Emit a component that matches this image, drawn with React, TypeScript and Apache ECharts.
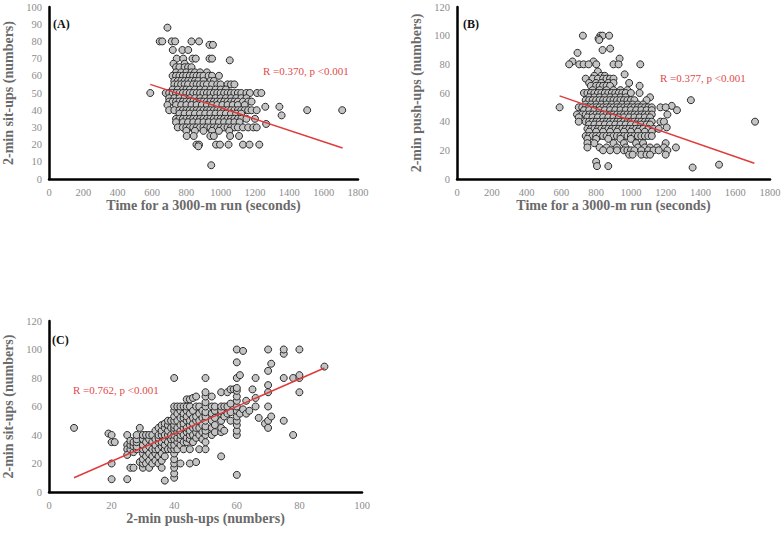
import React, { useEffect, useRef } from "react";
import * as echarts from "echarts";

// ---------- Panel A: 3000-m run time (s) vs 2-min sit-ups ----------
// rows: [sit-ups value, run times observed at that value]
const runSitupRows: [number, number[]][] = [
  [88, [690]],
  [80, [645, 660, 715, 735, 830, 874]],
  [78, [935, 955]],
  [75, [721, 777, 811]],
  [70, [744, 782, 836, 855, 935, 950]],
  [69, [1053]],
  [67, [725, 790]],
  [65, [740, 760, 790, 810, 830]],
  [62, [740, 770, 800, 830, 850, 880, 920]],
  [60, [720, 740, 760, 780, 800, 820, 840, 860, 880, 900, 930, 950, 990]],
  [57, [730, 750, 770, 790, 810, 830, 850, 870, 900, 940, 960]],
  [55, [730, 750, 770, 790, 810, 840, 860, 880, 900, 920, 950, 980, 1000, 1040, 1060, 1080]],
  [52, [720, 750, 780, 800, 820, 850, 880, 910, 940, 970, 1000, 1030]],
  [50, [590, 680, 700, 720, 740, 760, 780, 800, 820, 840, 860, 880, 900, 920, 940, 960, 980, 1000, 1020, 1040, 1060, 1080, 1100, 1120, 1150, 1170, 1212, 1237]],
  [47, [700, 730, 760, 790, 820, 850, 880, 910, 940, 970, 1000, 1030, 1060, 1090, 1120, 1150]],
  [45, [700, 720, 740, 760, 780, 800, 820, 840, 860, 880, 900, 920, 940, 960, 980, 1000, 1020, 1040, 1060, 1080, 1100, 1130, 1160, 1180]],
  [43, [690, 740, 770, 800, 830, 860, 890, 920, 950, 980, 1010, 1040, 1070, 1100, 1140]],
  [42, [1260, 1342]],
  [40, [700, 730, 760, 780, 800, 820, 840, 860, 880, 900, 920, 940, 960, 980, 1000, 1020, 1040, 1060, 1080, 1100, 1120, 1140, 1160, 1180, 1210, 1504, 1708]],
  [38, [760, 790, 820, 850, 880, 910, 940, 970, 1000, 1030, 1060, 1090, 1120]],
  [37, [1355]],
  [35, [740, 760, 780, 800, 820, 840, 860, 880, 900, 920, 940, 960, 980, 1000, 1020, 1040, 1060, 1080, 1100, 1120, 1150, 1200]],
  [33, [740, 780, 810, 840, 870, 900, 930, 960, 990, 1020, 1050, 1080, 1110]],
  [32, [1265]],
  [30, [750, 780, 800, 820, 840, 860, 880, 900, 920, 940, 960, 980, 1000, 1020, 1040, 1060, 1080, 1100, 1130, 1160, 1190, 1210]],
  [28, [800, 850, 900, 950, 990, 1050]],
  [25, [802, 843, 940, 960, 1055, 1107]],
  [20, [859, 874, 973, 996, 1046, 1130, 1168, 1225]],
  [19, [870]],
  [8, [945]],
];
const runSitupFit: [number, number][] = [[590, 55], [1710, 18]];

// ---------- Panel B: 3000-m run time (s) vs 2-min push-ups ----------
const runPushupRows: [number, number[]][] = [
  [100, [724, 824, 837, 875]],
  [98, [814]],
  [97, [818]],
  [91, [881]],
  [90, [837]],
  [88, [693]],
  [84, [935]],
  [82, [664, 785]],
  [80, [645, 703, 728, 757, 801, 900, 929, 1054]],
  [75, [810]],
  [73, [964]],
  [72, [790, 830, 850]],
  [70, [740, 780, 810, 840, 860, 880, 900]],
  [67, [760, 800, 830, 870, 900, 990]],
  [65, [770, 800, 820, 840, 860, 880, 1050]],
  [62, [780, 820, 860, 900, 940, 980]],
  [60, [730, 750, 770, 790, 810, 830, 850, 870, 890, 910, 930, 950, 970, 1000, 1050]],
  [57, [760, 790, 820, 850, 880, 910, 940, 970, 1110]],
  [55, [740, 760, 780, 800, 820, 840, 860, 880, 900, 920, 940, 960, 980, 1000, 1020, 1090, 1345]],
  [52, [740, 770, 800, 830, 860, 890, 920, 950, 980, 1010, 1040, 1070]],
  [51, [1235]],
  [50, [590, 700, 720, 740, 760, 780, 800, 820, 840, 860, 880, 900, 920, 940, 960, 980, 1000, 1020, 1040, 1060, 1080, 1100, 1120, 1170, 1200]],
  [48, [730, 760, 790, 820, 850, 880, 910, 940, 970, 1000, 1030, 1060, 1090, 1120, 1265]],
  [45, [690, 720, 740, 760, 780, 800, 820, 840, 860, 880, 900, 920, 940, 960, 980, 1000, 1020, 1040, 1060, 1080, 1100, 1120, 1210]],
  [43, [700, 750, 780, 810, 840, 870, 900, 930, 960, 990, 1020, 1050, 1080, 1110]],
  [40, [700, 740, 760, 780, 800, 820, 840, 860, 880, 900, 920, 940, 960, 980, 1000, 1020, 1040, 1060, 1080, 1100, 1120, 1170, 1190, 1714]],
  [38, [760, 790, 820, 850, 880, 910, 940, 970, 1000, 1030, 1060, 1090, 1110]],
  [36, [1206]],
  [35, [750, 770, 790, 810, 830, 850, 870, 890, 910, 930, 950, 970, 990, 1010, 1030, 1050, 1070, 1100, 1130, 1160]],
  [33, [760, 800, 840, 880, 920, 960, 1000, 1040, 1080, 1120]],
  [30, [740, 760, 780, 800, 820, 840, 860, 880, 900, 920, 940, 960, 980, 1000, 1020, 1040, 1060, 1080, 1100, 1120]],
  [28, [750, 800, 870, 940, 1000]],
  [25, [750, 790, 900, 960, 1030, 1070, 1200]],
  [22, [750, 820, 860, 920, 970, 1040, 1080, 1110, 1150, 1190, 1259]],
  [20, [840, 880, 920, 960, 980, 1000, 1020, 1060, 1100, 1130, 1160, 1210]],
  [17, [990, 1010, 1060, 1090, 1110, 1200]],
  [12, [800]],
  [10, [1507]],
  [9, [805, 870]],
  [8, [1355]],
];
const runPushupFit: [number, number][] = [[590, 58], [1710, 11]];

// ---------- Panel C: 2-min push-ups vs 2-min sit-ups ----------
// columns: [push-ups value, sit-ups values observed at that value]
const pushSitCols: [number, number[]][] = [
  [8, [45]],
  [19, [41]],
  [20, [40, 35, 20, 9]],
  [21, [35]],
  [25, [40, 33, 30, 26, 9]],
  [26, [17, 30, 33, 36]],
  [27, [17, 28, 32, 35]],
  [28, [30, 32, 35, 37, 40]],
  [29, [45, 21]],
  [30, [17, 20, 23, 27, 30, 33, 37, 40]],
  [31, [20, 25, 30, 35, 40]],
  [32, [17, 22, 27, 32, 37, 40]],
  [33, [20, 25, 30, 35, 40]],
  [34, [22, 27, 30, 33, 37, 43]],
  [35, [20, 25, 30, 35, 38, 40, 45]],
  [36, [17, 22, 27, 32, 35, 40, 43, 47]],
  [37, [8, 25, 30, 33, 37, 40, 45, 48]],
  [38, [30, 35, 40, 43, 47, 50]],
  [39, [30, 33, 37, 40, 45, 50]],
  [40, [10, 13, 17, 20, 23, 27, 30, 33, 37, 40, 43, 45, 47, 50, 53, 57, 60, 80]],
  [41, [30, 35, 38, 42, 45, 50, 55, 60]],
  [42, [20, 33, 37, 40, 43, 47, 52, 57, 60]],
  [43, [30, 35, 40, 45, 48, 52, 55, 60]],
  [44, [35, 38, 42, 45, 50, 53, 57, 60, 65]],
  [45, [20, 30, 37, 40, 43, 47, 50, 55, 60, 65]],
  [46, [35, 40, 45, 48, 52, 57, 66]],
  [47, [21, 38, 42, 45, 50, 53, 60, 67]],
  [48, [30, 40, 45, 50, 55, 60]],
  [49, [37, 42, 47, 52, 57]],
  [50, [30, 35, 40, 43, 46, 50, 53, 56, 60, 63, 67, 70, 80]],
  [52, [40, 45, 50, 55, 60, 67]],
  [53, [42, 47, 52, 57, 60]],
  [55, [25, 42, 45, 50, 55, 57, 60, 70]],
  [56, [43, 53, 60]],
  [57, [55, 60, 70]],
  [58, [50, 56, 62, 72]],
  [59, [72]],
  [60, [12, 40, 43, 47, 50, 53, 57, 60, 64, 67, 71, 73, 80, 91, 100]],
  [61, [55, 82]],
  [62, [58, 99]],
  [63, [55, 64]],
  [64, [57]],
  [65, [72]],
  [66, [60, 66, 80]],
  [67, [52]],
  [69, [48]],
  [70, [45, 50, 60, 70, 75, 85, 100]],
  [71, [53, 90]],
  [75, [50, 80, 97, 100]],
  [78, [40, 80]],
  [80, [70, 80, 82, 100]],
  [88, [88]],
];
const pushSitFit: [number, number][] = [[8, 10], [88, 87]];

// tick settings
const runTicks = { min: 0, max: 1800, interval: 200 };
const situpTicksA = { min: 0, max: 100, interval: 10 };
const countTicks = { min: 0, max: 120, interval: 20 };
const pushTicksC = { min: 0, max: 100, interval: 20 };

const FONT = "'Liberation Serif', 'Times New Roman', serif";

function fromRows(rows: [number, number[]][]): [number, number][] {
  const out: [number, number][] = [];
  rows.forEach(([y, xs]) => xs.forEach((x) => out.push([x, y])));
  return out;
}
function fromCols(cols: [number, number[]][]): [number, number][] {
  const out: [number, number][] = [];
  cols.forEach(([x, ys]) => ys.forEach((y) => out.push([x, y])));
  return out;
}

export default function App() {
  const ref = useRef<HTMLDivElement>(null);
  useEffect(() => {
    if (!ref.current) return;
    const chart = echarts.init(ref.current, undefined, { renderer: "svg" });

    const axisLine = { show: true, lineStyle: { color: "#000", width: 2.5 } };
    const axisLabel = {
      color: "#8c8c8c",
      fontSize: 10.5,
      fontFamily: FONT,
      formatter: (v: number) => String(v),
    };
    const nameStyle = { color: "#6a6a6a", fontSize: 14, fontWeight: "bold" as const, fontFamily: FONT };

    const xAxisBase = (gi: number, ticks: any, name: string, gap: number) => ({
      type: "value",
      gridIndex: gi,
      ...ticks,
      name,
      nameLocation: "middle",
      nameGap: gap,
      nameTextStyle: nameStyle,
      axisLine,
      axisTick: { show: false },
      splitLine: { show: false },
      axisLabel: { ...axisLabel, margin: 8 },
    });
    const yAxisBase = (gi: number, ticks: any, name: string) => ({
      type: "value",
      gridIndex: gi,
      ...ticks,
      name,
      nameLocation: "middle",
      nameGap: 34,
      nameTextStyle: nameStyle,
      axisLine,
      axisTick: { show: false },
      splitLine: { show: false },
      axisLabel: { ...axisLabel, margin: 7 },
    });

    const scatter = (gi: number, data: [number, number][]) => ({
      type: "scatter",
      xAxisIndex: gi,
      yAxisIndex: gi,
      data,
      symbolSize: 7,
      itemStyle: { color: "#c4c4c4", borderColor: "#2a2a2a", borderWidth: 1, opacity: 1 },
      z: 2,
    });
    const fit = (gi: number, data: [number, number][]) => ({
      type: "line",
      xAxisIndex: gi,
      yAxisIndex: gi,
      data,
      symbol: "none",
      lineStyle: { color: "#e03a3a", width: 1.5 },
      z: 3,
    });

    const redText = (x: number, y: number, text: string) => ({
      type: "text",
      x,
      y,
      style: { text, fill: "#e04a4a", font: `11px ${FONT}`, verticalAlign: "middle" },
    });
    const panelText = (x: number, y: number, text: string) => ({
      type: "text",
      x,
      y,
      style: { text, fill: "#111", font: `bold 12px ${FONT}`, verticalAlign: "middle" },
    });

    chart.setOption({
      animation: false,
      backgroundColor: "#fff",
      grid: [
        { left: 44, top: 7, width: 314, height: 172 },
        { left: 457, top: 7, width: 313, height: 172 },
        { left: 44, top: 321, width: 318, height: 171 },
      ],
      xAxis: [
        xAxisBase(0, runTicks, "Time for a 3000-m run (seconds)", 15),
        xAxisBase(1, runTicks, "Time for a 3000-m run (seconds)", 15),
        xAxisBase(2, pushTicksC, "2-min push-ups (numbers)", 17),
      ],
      yAxis: [
        yAxisBase(0, situpTicksA, "2-min sit-ups (numbers)"),
        yAxisBase(1, countTicks, "2-min push-ups (numbers)"),
        yAxisBase(2, countTicks, "2-min sit-ups (numbers)"),
      ],
      series: [
        scatter(0, fromRows(runSitupRows)),
        fit(0, runSitupFit),
        scatter(1, fromRows(runPushupRows)),
        fit(1, runPushupFit),
        scatter(2, fromCols(pushSitCols)),
        fit(2, pushSitFit),
      ],
      graphic: [
        panelText(53, 24, "(A)"),
        panelText(463, 24, "(B)"),
        panelText(52, 340, "(C)"),
        redText(263, 71, "R =0.370, p <0.001"),
        redText(660, 78, "R =0.377, p <0.001"),
        redText(73, 390, "R =0.762, p <0.001"),
      ],
    });
    return () => chart.dispose();
  }, []);
  return (
    <div
      ref={ref}
      style={{ position: "fixed", left: 0, top: 0, width: 784, height: 535 }}
    />
  );
}
